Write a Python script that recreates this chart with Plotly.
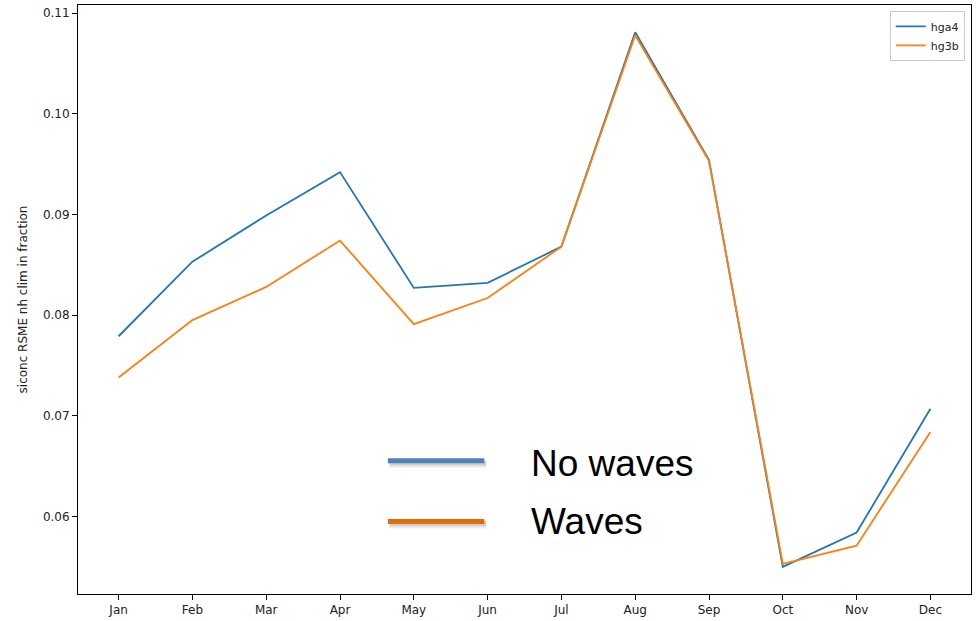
import plotly.graph_objects as go

months = ["Jan", "Feb", "Mar", "Apr", "May", "Jun", "Jul", "Aug", "Sep", "Oct", "Nov", "Dec"]
hga4 = [0.0779, 0.0853, 0.0899, 0.0942, 0.0827, 0.0832, 0.0868, 0.1081, 0.0954, 0.0550, 0.0584, 0.0707]
hg3b = [0.0738, 0.0795, 0.0828, 0.0874, 0.0791, 0.0817, 0.0868, 0.1078, 0.0953, 0.0553, 0.0571, 0.0684]
y_ticks = [0.06, 0.07, 0.08, 0.09, 0.10, 0.11]

x_idx = list(range(len(months)))

fig = go.Figure()
fig.add_trace(go.Scatter(x=x_idx, y=hga4, mode="lines", name="hga4",
                         line=dict(color="#1f77b4", width=1.8)))
fig.add_trace(go.Scatter(x=x_idx, y=hg3b, mode="lines", name="hg3b",
                         line=dict(color="#ff7f0e", width=1.8)))

tick_font = dict(family="DejaVu Sans", size=12, color="#222")

fig.update_layout(
    width=980, height=621,
    margin=dict(l=78, r=9, t=4, b=25),
    paper_bgcolor="white", plot_bgcolor="white",
    showlegend=True,
    legend=dict(x=0.993, y=0.99, xanchor="right", yanchor="top",
                bgcolor="rgba(255,255,255,0.8)", bordercolor="#cccccc", borderwidth=1,
                font=dict(family="DejaVu Sans", size=11, color="#222"),
                itemwidth=30, tracegroupgap=0),
    xaxis=dict(range=[-0.55, 11.55], tickmode="array", tickvals=x_idx, ticktext=months,
               showgrid=False, zeroline=False, showline=True, linecolor="black", linewidth=1,
               mirror=True, ticks="outside", ticklen=5, tickcolor="black", tickfont=tick_font),
    yaxis=dict(range=[0.0523, 0.1108], tickmode="array", tickvals=y_ticks,
               ticktext=[f"{v:.2f}" for v in y_ticks],
               showgrid=False, zeroline=False, showline=True, linecolor="black", linewidth=1,
               mirror=True, ticks="outside", ticklen=5, tickcolor="black", tickfont=tick_font,
               title=dict(text="siconc RSME nh clim in fraction", standoff=12,
                          font=dict(family="DejaVu Sans", size=12, color="#222"))),
)

# Overlaid key: thick swatches with a soft drop shadow, plus large labels
key_items = [("No waves", "#4F81BD", 0.2264, 0.2217), ("Waves", "#E36C0A", 0.1233, 0.1237)]
for label, color, y_line, y_text in key_items:
    for dy, op, w in [(-0.006, 0.12, 7), (-0.004, 0.2, 5)]:
        fig.add_shape(type="line", xref="paper", yref="paper",
                      x0=0.349, x1=0.457, y0=y_line + dy, y1=y_line + dy,
                      line=dict(color=f"rgba(90,90,90,{op})", width=w))
    fig.add_shape(type="line", xref="paper", yref="paper",
                  x0=0.347, x1=0.455, y0=y_line, y1=y_line,
                  line=dict(color=color, width=5))
    fig.add_annotation(text=label, xref="paper", yref="paper", x=0.505, y=y_text,
                       xanchor="left", yanchor="middle", showarrow=False,
                       font=dict(family="Liberation Sans", size=37, color="black"))

fig.write_html("out.html")
